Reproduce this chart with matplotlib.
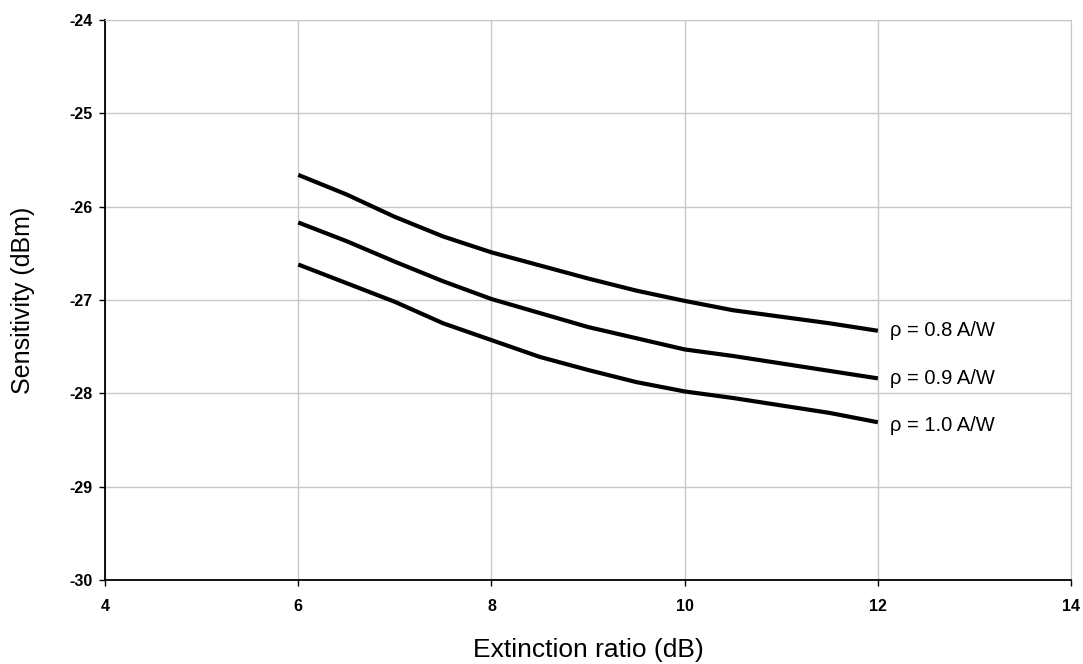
import numpy as np
import matplotlib.pyplot as plt

plt.rcParams['axes.unicode_minus'] = False

# Extinction ratio (dB) and sensitivity (dBm)
er = [6, 6.5, 7, 7.5, 8, 8.5, 9, 9.5, 10, 10.5, 11, 11.5, 12]
sens_08 = [-25.66, -25.87, -26.11, -26.32, -26.49, -26.63, -26.77, -26.90, -27.01,
           -27.11, -27.18, -27.25, -27.33]
sens_09 = [-26.17, -26.37, -26.59, -26.80, -26.99, -27.14, -27.29, -27.41, -27.53,
           -27.60, -27.68, -27.76, -27.84]
sens_10 = [-26.62, -26.82, -27.02, -27.25, -27.43, -27.61, -27.75, -27.88, -27.98,
           -28.05, -28.13, -28.21, -28.31]
labels = ['ρ = 0.8 A/W', 'ρ = 0.9 A/W', 'ρ = 1.0 A/W']
label_y = [-27.33, -27.84, -28.34]

fig = plt.figure(figsize=(10.83, 6.64), dpi=100)
ax = fig.add_axes([0.097, 0.1265, 0.892, 0.8435])

for s, lab, ly in zip([sens_08, sens_09, sens_10], labels, label_y):
    ax.plot(er, s, color='black', lw=3.0, solid_capstyle='butt', solid_joinstyle='round')
    ax.text(12.13, ly, lab, fontsize=14.5, family='Liberation Sans',
            va='center', ha='left',
            bbox=dict(facecolor='white', edgecolor='none', pad=2))

ax.set_xlim(4, 14)
ax.set_ylim(-30, -24)
ax.set_xticks(np.arange(4, 15, 2))
ax.set_yticks(np.arange(-30, -23, 1))
ax.grid(True, color='#c8c8c8', lw=1)
ax.set_axisbelow(True)

for sp in ['top', 'right']:
    ax.spines[sp].set_color('#c8c8c8')
for sp in ['left', 'bottom']:
    ax.spines[sp].set_color('black')
    ax.spines[sp].set_linewidth(1.3)

ax.tick_params(direction='out', length=4, width=1, pad=5)
ax.tick_params(axis='x', pad=10)
for t in ax.get_xticklabels() + ax.get_yticklabels():
    t.set_family(['Liberation Sans Narrow', 'Liberation Sans'])
    t.set_fontweight('bold')
    t.set_fontsize(11.5)

ax.set_xlabel('Extinction ratio (dB)', fontsize=19, family='Liberation Sans', labelpad=17)
ax.set_ylabel('Sensitivity (dBm)', fontsize=18, family='Liberation Sans', labelpad=25)

fig.savefig('out.png', dpi=100)
